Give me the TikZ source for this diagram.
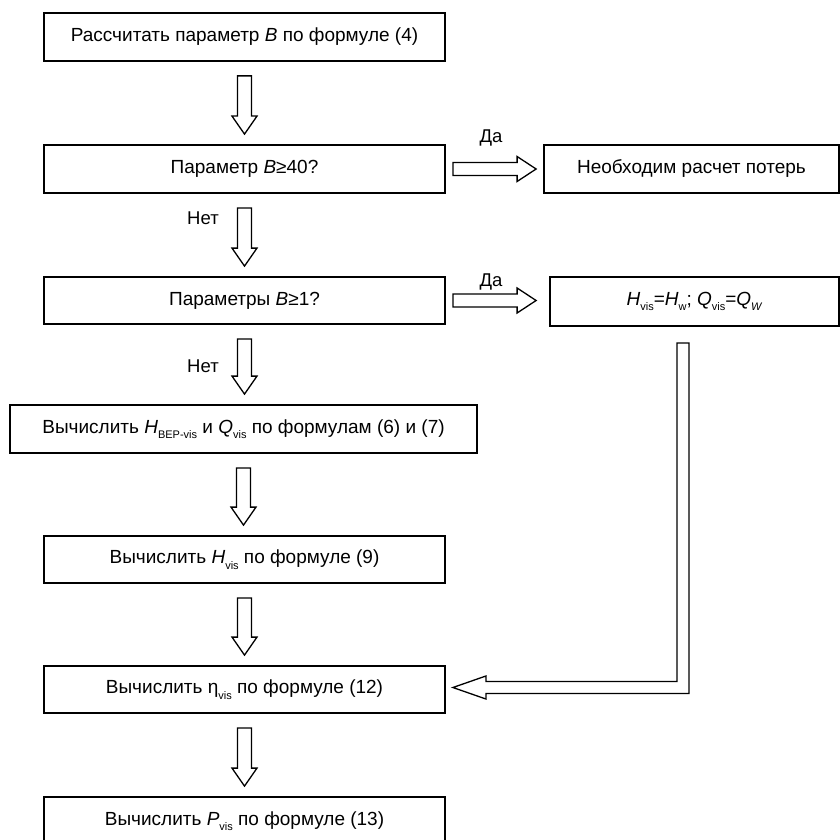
\documentclass[tikz,border=0pt]{standalone}
\usepackage{fontspec}
\setmainfont{Liberation Sans}
\usetikzlibrary{calc}
\newcommand\lo[1]{\raisebox{-0.55ex}{\fontsize{11}{11}\selectfont #1}}
\newcommand\vblock[2]{%
  \draw[blockarrow] let \p1=($(#1.south)+(0,14)$), \p2=($(#2.north)+(0,-10)$) in
    (\x1-7pt,\y1) -- (\x1+7pt,\y1) -- (\x1+7pt,\y2+18pt) -- (\x1+12.5pt,\y2+18pt)
    -- (\x1,\y2) -- (\x1-12.5pt,\y2+18pt) -- (\x1-7pt,\y2+18pt) -- cycle;}
\newcommand\hblock[3]{%
  \draw[blockarrow] let \p1=($(#1.east)+(7,0)$), \p2=($(#2.west)+(-#3,0)$) in
    (\x1,\y1-6.5pt) -- (\x2-19pt,\y1-6.5pt) -- (\x2-19pt,\y1-12.5pt) -- (\x2,\y1)
    -- (\x2-19pt,\y1+12.5pt) -- (\x2-19pt,\y1+6.5pt) -- (\x1,\y1+6.5pt) -- cycle;}
\begin{document}
\begin{tikzpicture}[x=1pt,y=-1pt,
  box/.style={draw, line width=1.8pt, rectangle, inner sep=0pt, minimum height=48pt,
    font=\fontsize{19}{22}\selectfont},
  blockarrow/.style={draw, line width=1.3pt, fill=white, line join=miter},
  lbl/.style={font=\fontsize{18.5}{20}\selectfont, inner sep=0pt}]
\useasboundingbox (0,0) rectangle (840,840);
\clip (0,0) rectangle (840,840);
\fill[white] (0,0) rectangle (840,840);

\node[box, minimum width=401pt] (b1) at (244.5,37) {Рассчитать параметр \textit{B} по формуле (4)};
\node[box, minimum width=401pt] (b2) at (244.5,169) {Параметр \textit{B}≥40?};
\node[box, minimum width=401pt, minimum height=47pt] (b3) at (244.5,300.5) {Параметры \textit{B}≥1?};
\node[box, minimum width=467pt] (b4) at (243.5,429) {Вычислить \textit{H}\lo{BEP-vis} и \textit{Q}\lo{vis} по формулам (6) и (7)};
\node[box, minimum width=401pt, minimum height=47pt] (b5) at (244.5,559.5) {Вычислить \textit{H}\lo{vis} по формуле (9)};
\node[box, minimum width=401pt, minimum height=47pt] (b6) at (244.5,689.5) {Вычислить η\lo{vis} по формуле (12)};
\node[box, minimum width=401pt] (b7) at (244.5,821) {Вычислить \textit{P}\lo{vis} по формуле (13)};
\node[box, minimum width=295pt] (r1) at (691.5,169) {Необходим расчет потерь};
\node[box, minimum width=289pt, minimum height=49pt] (r2) at (694.5,301.5) {\textit{H}\lo{vis}=\textit{H}\lo{w}; \textit{Q}\lo{vis}=\textit{Q}\lo{\textit{W}}};

\node[lbl] (da1) at (491,138) {Да};
\node[lbl] (da2) at (491,282) {Да};
\node[lbl] (net1) at (203,218) {Нет};
\node[lbl] (net2) at (203,366) {Нет};

\vblock{b1}{b2}
\vblock{b2}{b3}
\vblock{b3}{b4}
\vblock{b4}{b5}
\vblock{b5}{b6}
\vblock{b6}{b7}
\hblock{b2}{r1}{7}
\hblock{b3}{r2}{13}

\draw[blockarrow] let \p1=($(r2.south)+(-11.5,16)$), \p2=($(b6.east)+(7,-2)$) in
  (\x1-6pt,\y1) -- (\x1+6pt,\y1) -- (\x1+6pt,\y2-6pt) -- (\x2+33pt,\y2-6pt)
  -- (\x2+33pt,\y2-11.5pt) -- (\x2,\y2) -- (\x2+33pt,\y2+11.5pt) -- (\x2+33pt,\y2+6pt)
  -- (\x1-6pt,\y2+6pt) -- cycle;
\end{tikzpicture}
\end{document}
